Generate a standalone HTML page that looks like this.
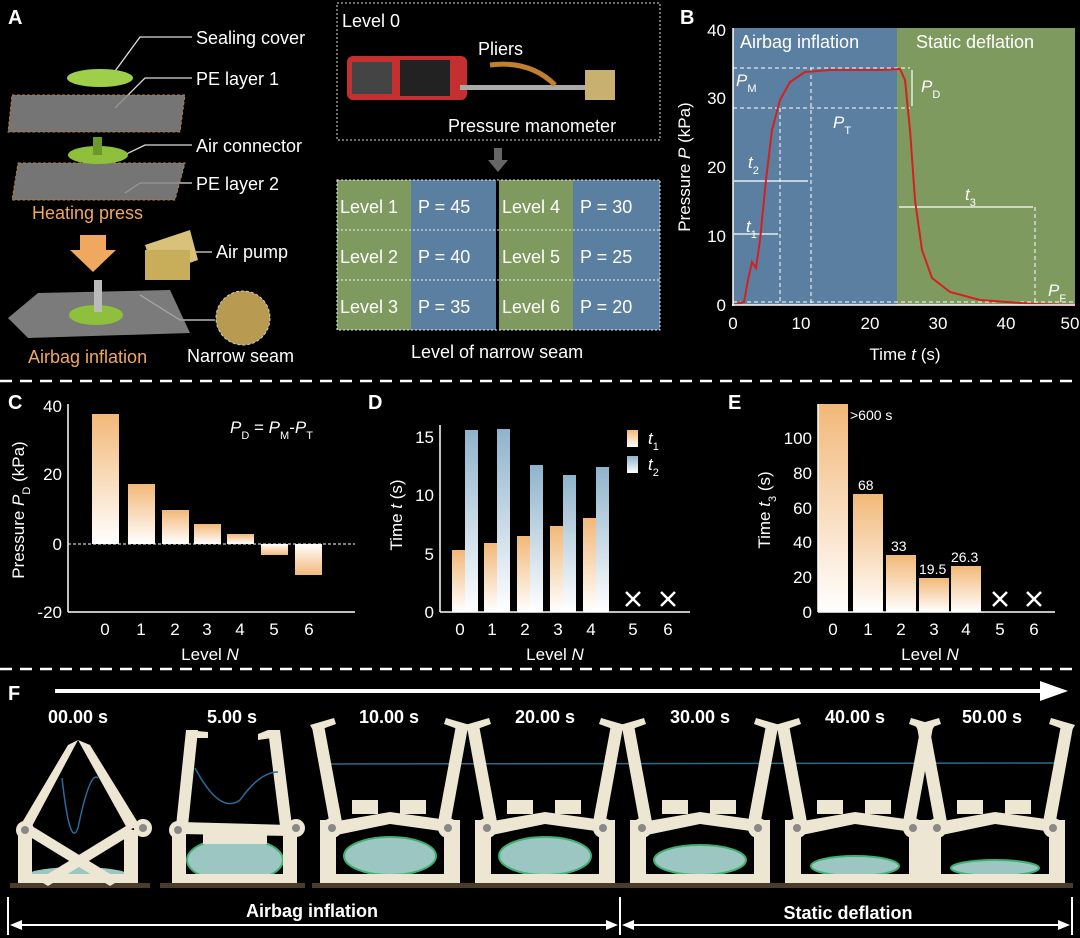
<!DOCTYPE html>
<html><head><meta charset="utf-8"><style>
html,body{margin:0;padding:0;background:#000}
svg{display:block}
text{font-family:"Liberation Sans",sans-serif}
</style></head><body>
<svg width="1080" height="938" viewBox="0 0 1080 938" xmlns="http://www.w3.org/2000/svg">
<defs>
<linearGradient id="og" x1="0" y1="0" x2="0" y2="1"><stop offset="0" stop-color="#f2b878"/><stop offset="1" stop-color="#fff"/></linearGradient>
<linearGradient id="bg" x1="0" y1="0" x2="0" y2="1"><stop offset="0" stop-color="#8fb3cc"/><stop offset="1" stop-color="#fff"/></linearGradient>
<linearGradient id="ogn" x1="0" y1="1" x2="0" y2="0"><stop offset="0" stop-color="#f2b878"/><stop offset="1" stop-color="#fff"/></linearGradient>
<g id="open" fill="#ece6d2">
<rect x="-78" y="883" width="156" height="5" fill="#4a3c28"/>
<polygon points="-78,727 -66,725 -48,822 -60,826"/>
<polygon points="-80,725 -56,718 -54,724 -76,732"/>
<polygon points="78,727 66,725 48,822 60,826"/>
<polygon points="80,725 56,718 54,724 76,732"/>
<rect x="-70" y="820" width="16" height="62"/><rect x="54" y="820" width="16" height="62"/>
<rect x="-70" y="874" width="140" height="9"/>
<polygon points="-58,822 0,812 58,820 58,832 0,824 -58,836"/>
<rect x="-38" y="800" width="26" height="14"/><rect x="10" y="800" width="26" height="14"/>
<circle cx="-58" cy="828" r="10"/><circle cx="-58" cy="828" r="4" fill="#888"/>
<circle cx="58" cy="828" r="10"/><circle cx="58" cy="828" r="4" fill="#888"/>
</g>
</defs>
<rect width="1080" height="938" fill="#000"/>

<!-- Panel A -->
<text x="8" y="24" fill="#fff" font-size="20" font-weight="bold">A</text>
<g fill="#fff" font-size="18">
<text x="196" y="44">Sealing cover</text>
<text x="196" y="85">PE layer 1</text>
<text x="196" y="152">Air connector</text>
<text x="196" y="190">PE layer 2</text>
<text x="216" y="258">Air pump</text>
<text x="187" y="362">Narrow seam</text>
</g>
<text x="32" y="219" fill="#f0a860" font-size="18">Heating press</text>
<text x="28" y="363" fill="#f0a860" font-size="18">Airbag inflation</text>
<g stroke="#ddd" stroke-width="1.3" fill="none">
<polyline points="110,78 140,37 192,37"/><polyline points="115,108 145,78 192,78"/>
<polyline points="118,158 145,145 192,145"/><polyline points="125,193 140,183 192,183"/>
<polyline points="160,265 175,252 212,252"/><polyline points="140,295 180,320 215,320"/>
</g>
<polygon points="12,95 185,95 180,132 8,132" fill="#8a8a8a" opacity=".85" stroke="#d9924a" stroke-dasharray="3 2"/>
<ellipse cx="100" cy="78" rx="33" ry="9" fill="#9fcf4a"/>
<polygon points="18,163 185,163 175,200 12,200" fill="#8a8a8a" opacity=".85" stroke="#d9924a" stroke-dasharray="3 2"/>
<ellipse cx="98" cy="155" rx="30" ry="9" fill="#8ec03c"/><rect x="93" y="137" width="9" height="18" fill="#6a9a2a"/>
<polygon points="80,235 106,235 106,250 116,250 93,272 70,250 80,250" fill="#f0a860"/>
<polygon points="38,293 170,290 190,333 28,338 8,318" fill="#9a9a9a" opacity=".8"/>
<ellipse cx="96" cy="315" rx="27" ry="10" fill="#8ec03c"/>
<rect x="94" y="280" width="8" height="32" fill="#bbb"/>
<polygon points="145,245 190,230 198,260 155,275" fill="#d8c27a"/>
<rect x="145" y="250" width="45" height="30" fill="#c8ae5a"/>
<circle cx="243" cy="318" r="27" fill="#b89a50" stroke="#ccc" stroke-dasharray="3 2"/>

<!-- Level 0 box -->
<rect x="337" y="3" width="323" height="137" fill="none" stroke="#ddd" stroke-dasharray="2 2"/>
<text x="342" y="27" fill="#fff" font-size="18">Level 0</text>
<text x="478" y="55" fill="#fff" font-size="18">Pliers</text>
<text x="448" y="132" fill="#fff" font-size="18">Pressure manometer</text>
<rect x="347" y="56" width="120" height="44" rx="6" fill="#c43030"/>
<rect x="400" y="60" width="50" height="36" fill="#222"/>
<rect x="352" y="62" width="40" height="32" fill="#444"/>
<rect x="460" y="85" width="140" height="5" fill="#aaa"/>
<rect x="585" y="70" width="30" height="30" fill="#c8b070"/>
<path d="M490 65 Q530 60 555 85" stroke="#c08030" stroke-width="5" fill="none"/>
<rect x="494" y="148" width="8" height="12" fill="#666"/><polygon points="488,160 508,160 498,172" fill="#666"/>

<!-- table -->
<rect x="337" y="180" width="74" height="150" fill="#7f9a5e"/>
<rect x="411" y="180" width="86" height="150" fill="#5b7fa0"/>
<rect x="497" y="180" width="76" height="150" fill="#7f9a5e"/>
<rect x="573" y="180" width="87" height="150" fill="#5b7fa0"/>
<rect x="496" y="180" width="3" height="150" fill="#000"/>
<g stroke="#eee" stroke-dasharray="2 2" fill="none"><rect x="337" y="180" width="323" height="150"/><line x1="337" y1="230" x2="660" y2="230"/><line x1="337" y1="280" x2="660" y2="280"/></g>
<g fill="#fff" font-size="18">
<text x="340" y="213">Level 1</text><text x="418" y="213">P = 45</text><text x="502" y="213">Level 4</text><text x="580" y="213">P = 30</text>
<text x="340" y="263">Level 2</text><text x="418" y="263">P = 40</text><text x="502" y="263">Level 5</text><text x="580" y="263">P = 25</text>
<text x="340" y="313">Level 3</text><text x="418" y="313">P = 35</text><text x="502" y="313">Level 6</text><text x="580" y="313">P = 20</text>
<text x="411" y="358">Level of narrow seam</text>
</g>

<!-- Panel B -->
<text x="680" y="24" fill="#fff" font-size="20" font-weight="bold">B</text>
<rect x="733" y="28" width="164" height="277" fill="#5b7fa0"/>
<rect x="897" y="28" width="178" height="277" fill="#7f9a5e"/>
<g fill="#fff" font-size="18"><text x="740" y="48">Airbag inflation</text><text x="916" y="48">Static deflation</text></g>
<g stroke="#fff" stroke-dasharray="4 3" stroke-width="1" fill="none">
<line x1="733" y1="68" x2="910" y2="68"/><line x1="733" y1="108" x2="910" y2="108"/>
<line x1="780" y1="108" x2="780" y2="305"/><line x1="811" y1="68" x2="811" y2="305"/>
<line x1="1035" y1="207" x2="1035" y2="305"/><line x1="733" y1="302" x2="1075" y2="302"/>
</g>
<g stroke="#fff" stroke-width="1.2" fill="#fff">
<line x1="734" y1="181" x2="808" y2="181"/><line x1="734" y1="234" x2="778" y2="234"/><line x1="899" y1="207" x2="1033" y2="207"/>
<line x1="912" y1="70" x2="912" y2="106"/>
</g>
<g fill="#fff" font-size="17" font-style="italic">
<text x="736" y="86">P<tspan font-size="11" baseline-shift="sub" font-style="normal">M</tspan></text>
<text x="833" y="128">P<tspan font-size="11" baseline-shift="sub" font-style="normal">T</tspan></text>
<text x="921" y="92">P<tspan font-size="11" baseline-shift="sub" font-style="normal">D</tspan></text>
<text x="1048" y="296">P<tspan font-size="11" baseline-shift="sub" font-style="normal">F</tspan></text>
<text x="748" y="168">t<tspan font-size="11" baseline-shift="sub" font-style="normal">2</tspan></text>
<text x="746" y="232">t<tspan font-size="11" baseline-shift="sub" font-style="normal">1</tspan></text>
<text x="965" y="200">t<tspan font-size="11" baseline-shift="sub" font-style="normal">3</tspan></text>
</g>
<path d="M733 305 L744 302 L748 280 L752 262 L756 268 L760 240 L766 180 L772 130 L780 100 L790 82 L805 72 L830 70 L860 70 L880 70 L900 69 L905 80 L910 130 L915 200 L922 250 L932 278 L950 292 L980 300 L1035 304 L1075 305" stroke="#d42020" stroke-width="2" fill="none"/>
<g stroke="#fff" stroke-width="1.5"><line x1="733" y1="28" x2="733" y2="306"/><line x1="732" y1="305" x2="1075" y2="305"/></g>
<g fill="#fff" font-size="17" text-anchor="end">
<text x="726" y="36">40</text><text x="726" y="104">30</text><text x="726" y="173">20</text><text x="726" y="242">10</text><text x="726" y="311">0</text>
</g>
<g fill="#fff" font-size="17" text-anchor="middle">
<text x="733" y="329">0</text><text x="801" y="329">10</text><text x="870" y="329">20</text><text x="938" y="329">30</text><text x="1006" y="329">40</text><text x="1070" y="329">50</text>
<text x="905" y="360">Time <tspan font-style="italic">t</tspan> (s)</text>
<text transform="translate(690,167) rotate(-90)">Pressure <tspan font-style="italic">P</tspan> (kPa)</text>
</g>

<line x1="0" y1="381" x2="1080" y2="381" stroke="#fff" stroke-width="2.5" stroke-dasharray="12 8"/>

<!-- Panel C -->
<text x="8" y="409" fill="#fff" font-size="20" font-weight="bold">C</text>
<rect x="92" y="414" width="27" height="130" fill="url(#og)"/>
<rect x="128" y="484" width="27" height="60" fill="url(#og)"/>
<rect x="162" y="510" width="27" height="34" fill="url(#og)"/>
<rect x="194" y="524" width="27" height="20" fill="url(#og)"/>
<rect x="227" y="534" width="27" height="10" fill="url(#og)"/>
<rect x="261" y="544" width="27" height="11" fill="url(#ogn)"/>
<rect x="295" y="544" width="27" height="31" fill="url(#ogn)"/>
<line x1="68" y1="544" x2="355" y2="544" stroke="#fff" stroke-dasharray="3 2"/>
<g stroke="#fff" stroke-width="1.5"><line x1="68" y1="404" x2="68" y2="612"/><line x1="68" y1="612" x2="355" y2="612"/></g>
<g fill="#fff" font-size="17" text-anchor="end"><text x="62" y="412">40</text><text x="62" y="480">20</text><text x="62" y="550">0</text><text x="62" y="618">-20</text></g>
<g fill="#fff" font-size="17" text-anchor="middle">
<text x="105" y="635">0</text><text x="141" y="635">1</text><text x="175" y="635">2</text><text x="207" y="635">3</text><text x="240" y="635">4</text><text x="274" y="635">5</text><text x="309" y="635">6</text>
<text x="210" y="660">Level <tspan font-style="italic">N</tspan></text>
<text transform="translate(24,510) rotate(-90)">Pressure <tspan font-style="italic">P</tspan><tspan font-size="11" baseline-shift="sub">D</tspan> (kPa)</text>
</g>
<text x="230" y="433" fill="#fff" font-size="17"><tspan font-style="italic">P</tspan><tspan font-size="11" baseline-shift="sub">D</tspan> = <tspan font-style="italic">P</tspan><tspan font-size="11" baseline-shift="sub">M</tspan>-<tspan font-style="italic">P</tspan><tspan font-size="11" baseline-shift="sub">T</tspan></text>

<!-- Panel D -->
<text x="368" y="409" fill="#fff" font-size="20" font-weight="bold">D</text>
<g>
<rect x="452" y="550" width="13" height="62" fill="url(#og)"/><rect x="465" y="430" width="13" height="182" fill="url(#bg)"/>
<rect x="484" y="543" width="13" height="69" fill="url(#og)"/><rect x="497" y="429" width="13" height="183" fill="url(#bg)"/>
<rect x="517" y="536" width="13" height="76" fill="url(#og)"/><rect x="530" y="465" width="13" height="147" fill="url(#bg)"/>
<rect x="550" y="526" width="13" height="86" fill="url(#og)"/><rect x="563" y="475" width="13" height="137" fill="url(#bg)"/>
<rect x="583" y="518" width="13" height="94" fill="url(#og)"/><rect x="596" y="467" width="13" height="145" fill="url(#bg)"/>
</g>
<g stroke="#fff" stroke-width="1.5"><line x1="440" y1="425" x2="440" y2="612"/><line x1="440" y1="612" x2="690" y2="612"/></g>
<g stroke="#fff" stroke-width="2.5"><path d="M626 592 l14 14 M640 592 l-14 14 M661 592 l14 14 M675 592 l-14 14"/></g>
<rect x="627" y="430" width="11" height="17" fill="url(#og)"/><rect x="627" y="456" width="11" height="17" fill="url(#bg)"/>
<g fill="#fff" font-size="17" font-style="italic"><text x="648" y="444">t<tspan font-size="11" baseline-shift="sub" font-style="normal">1</tspan></text><text x="648" y="470">t<tspan font-size="11" baseline-shift="sub" font-style="normal">2</tspan></text></g>
<g fill="#fff" font-size="17" text-anchor="end"><text x="434" y="443">15</text><text x="434" y="501">10</text><text x="434" y="560">5</text><text x="434" y="618">0</text></g>
<g fill="#fff" font-size="17" text-anchor="middle">
<text x="460" y="635">0</text><text x="492" y="635">1</text><text x="525" y="635">2</text><text x="558" y="635">3</text><text x="591" y="635">4</text><text x="633" y="635">5</text><text x="668" y="635">6</text>
<text x="555" y="660">Level <tspan font-style="italic">N</tspan></text>
<text transform="translate(402,515) rotate(-90)">Time <tspan font-style="italic">t</tspan> (s)</text>
</g>

<!-- Panel E -->
<text x="728" y="409" fill="#fff" font-size="20" font-weight="bold">E</text>
<rect x="818" y="404" width="30" height="208" fill="url(#og)"/>
<rect x="853" y="494" width="30" height="118" fill="url(#og)"/>
<rect x="886" y="555" width="30" height="57" fill="url(#og)"/>
<rect x="919" y="578" width="30" height="34" fill="url(#og)"/>
<rect x="951" y="566" width="30" height="46" fill="url(#og)"/>
<g stroke="#fff" stroke-width="1.5"><line x1="818" y1="404" x2="818" y2="612"/><line x1="818" y1="612" x2="1055" y2="612"/></g>
<g stroke="#fff" stroke-width="2.5"><path d="M993 592 l14 14 M1007 592 l-14 14 M1027 592 l14 14 M1041 592 l-14 14"/></g>
<g fill="#fff" font-size="14"><text x="850" y="420">&gt;600 s</text><text x="858" y="490">68</text><text x="891" y="551">33</text><text x="919" y="574">19.5</text><text x="951" y="562">26.3</text></g>
<g fill="#fff" font-size="17" text-anchor="end"><text x="812" y="444">100</text><text x="812" y="479">80</text><text x="812" y="514">60</text><text x="812" y="548">40</text><text x="812" y="583">20</text><text x="812" y="618">0</text></g>
<g fill="#fff" font-size="17" text-anchor="middle">
<text x="833" y="635">0</text><text x="868" y="635">1</text><text x="901" y="635">2</text><text x="934" y="635">3</text><text x="966" y="635">4</text><text x="1000" y="635">5</text><text x="1034" y="635">6</text>
<text x="930" y="660">Level <tspan font-style="italic">N</tspan></text>
<text transform="translate(770,510) rotate(-90)">Time <tspan font-style="italic">t</tspan><tspan font-size="11" baseline-shift="sub">3</tspan> (s)</text>
</g>

<line x1="0" y1="669" x2="1080" y2="669" stroke="#fff" stroke-width="2.5" stroke-dasharray="12 8"/>

<!-- Panel F -->
<text x="8" y="700" fill="#fff" font-size="20" font-weight="bold">F</text>
<line x1="55" y1="691" x2="1045" y2="691" stroke="#fff" stroke-width="4"/>
<polygon points="1040,681 1068,691 1040,701" fill="#fff"/>
<g fill="#fff" font-size="18" font-weight="bold" text-anchor="middle">
<text x="78" y="723">00.00 s</text><text x="232" y="723">5.00 s</text><text x="389" y="723">10.00 s</text><text x="545" y="723">20.00 s</text><text x="700" y="723">30.00 s</text><text x="855" y="723">40.00 s</text><text x="992" y="723">50.00 s</text>
</g>
<line x1="320" y1="764" x2="1060" y2="763" stroke="#2a6a8a" stroke-width="1.5"/>
<!-- frame 1 -->
<g fill="#ece6d2">
<rect x="10" y="883" width="140" height="5" fill="#4a3c28"/>
<ellipse cx="78" cy="875" rx="50" ry="8" fill="#9cc6c2"/>
<polygon points="68,745 78,740 30,830 20,826"/><polygon points="78,740 90,745 140,826 128,830"/>
<polygon points="22,832 32,826 120,880 110,886"/><polygon points="126,826 136,832 48,886 38,880"/>
<rect x="18" y="830" width="14" height="52"/><rect x="124" y="830" width="14" height="52"/>
<rect x="18" y="874" width="120" height="9"/>
<circle cx="25" cy="830" r="9"/><circle cx="25" cy="830" r="4" fill="#888"/><circle cx="143" cy="828" r="9"/><circle cx="143" cy="828" r="4" fill="#888"/>
</g>
<path d="M62 778 Q70 850 78 828 Q90 770 98 778" stroke="#2a6a9a" fill="none" stroke-width="1.5"/>
<!-- frame 2 -->
<g fill="#ece6d2">
<rect x="160" y="883" width="145" height="5" fill="#4a3c28"/>
<ellipse cx="235" cy="860" rx="48" ry="22" fill="#9cc6c2" stroke="#3fb070" stroke-width="2"/>
<polygon points="186,730 198,730 188,826 176,826"/><polygon points="186,730 208,732 208,738 196,738"/>
<polygon points="268,730 280,730 292,826 280,826"/><polygon points="268,730 258,734 258,740 272,738"/>
<rect x="172" y="826" width="14" height="56"/><rect x="283" y="826" width="14" height="56"/>
<rect x="172" y="874" width="125" height="9"/>
<polygon points="180,822 290,825 290,836 180,834"/><rect x="203" y="834" width="64" height="10"/>
<circle cx="178" cy="830" r="9"/><circle cx="178" cy="830" r="4" fill="#888"/><circle cx="296" cy="828" r="9"/><circle cx="296" cy="828" r="4" fill="#888"/>
</g>
<path d="M195 768 Q220 815 240 800 Q260 772 278 772" stroke="#2a6a9a" fill="none" stroke-width="1.5"/>
<!-- airbags -->
<g fill="#9cc6c2" stroke="#3fb070" stroke-width="2">
<ellipse cx="390" cy="856" rx="46" ry="19"/><ellipse cx="545" cy="856" rx="46" ry="19"/>
<ellipse cx="700" cy="860" rx="46" ry="15"/><ellipse cx="855" cy="866" rx="44" ry="10"/><ellipse cx="995" cy="868" rx="44" ry="8"/>
</g>
<use href="#open" x="390"/><use href="#open" x="545"/><use href="#open" x="700"/>
<use href="#open" x="855"/><use href="#open" x="995"/>
<!-- bottom arrows -->
<line x1="8" y1="897" x2="8" y2="935" stroke="#fff" stroke-width="2"/>
<line x1="620" y1="897" x2="620" y2="935" stroke="#fff" stroke-width="2"/>
<line x1="1072" y1="897" x2="1072" y2="935" stroke="#fff" stroke-width="2"/>
<line x1="14" y1="925" x2="614" y2="925" stroke="#fff" stroke-width="2"/>
<line x1="626" y1="925" x2="1066" y2="925" stroke="#fff" stroke-width="2"/>
<polygon points="10,925 22,920 22,930" fill="#fff"/><polygon points="618,925 606,920 606,930" fill="#fff"/>
<polygon points="622,925 634,920 634,930" fill="#fff"/><polygon points="1070,925 1058,920 1058,930" fill="#fff"/>
<g fill="#fff" font-size="18" font-weight="bold" text-anchor="middle"><text x="312" y="917">Airbag inflation</text><text x="848" y="919">Static deflation</text></g>
</svg>
</body></html>
